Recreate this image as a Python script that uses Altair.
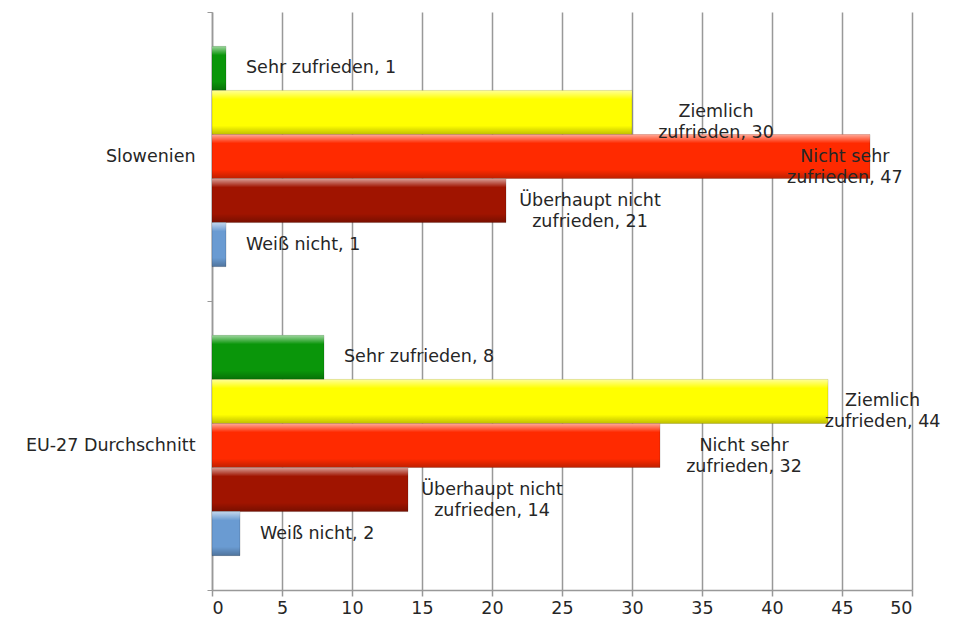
import altair as alt
import pandas as pd

countries = ["Slowenien", "EU-27 Durchschnitt"]
categories = ["Sehr zufrieden", "Ziemlich zufrieden", "Nicht sehr zufrieden",
              "Überhaupt nicht zufrieden", "Weiß nicht"]
label_text = ["Sehr zufrieden", "Ziemlich\nzufrieden", "Nicht sehr\nzufrieden",
              "Überhaupt nicht\nzufrieden", "Weiß nicht"]
slovenia = [1, 30, 47, 21, 1]
eu27 = [8, 44, 32, 14, 2]
colors = ["#0a960a", "#ffff00", "#ff2a00", "#a01400", "#6a9bd2"]
x_ticks = [0, 5, 10, 15, 20, 25, 30, 35, 40, 45, 50]

rows = []
for country, vals in zip(countries, [slovenia, eu27]):
    for cat, txt, v in zip(categories, label_text, vals):
        two = "\n" in txt
        if two:
            lx = v + 6
            if lx > 50:
                lx = v - 1.8
            elif lx > 47.9:
                lx = 47.9
        else:
            lx = v
        rows.append(dict(country=country, cat=cat, value=v,
                         label=f"{txt}, {v}", two=two, lx=lx))
df = pd.DataFrame(rows)

FONT = "DejaVu Sans"
FS = 17.5
TXT = "#262626"
GRID = "#999999"

y_enc = alt.Y("country:N", sort=countries,
              scale=alt.Scale(paddingInner=0, paddingOuter=0),
              axis=alt.Axis(title=None, tickBand="extent", tickSize=5,
                            tickColor=GRID, domainColor=GRID, domainWidth=1.5,
                            labelFont=FONT, labelFontSize=FS, labelColor=TXT,
                            labelPadding=12, grid=False))
yo_enc = alt.YOffset("cat:N", sort=categories,
                     scale=alt.Scale(paddingInner=0, paddingOuter=0.78))
x_axis = alt.Axis(title=None, values=x_ticks, grid=True, gridColor=GRID,
                  gridWidth=1.5, domainColor=GRID, domainWidth=1.5,
                  tickColor=GRID, tickSize=6, tickWidth=1.5,
                  labelFont=FONT, labelFontSize=FS, labelColor=TXT,
                  labelPadding=3)
x_scale = alt.Scale(domain=[0, 50], nice=False)

base = alt.Chart(df)

bars = base.mark_bar(stroke="#00000033", strokeWidth=0.8).encode(
    y=y_enc, yOffset=yo_enc,
    x=alt.X("value:Q", scale=x_scale, axis=x_axis),
    color=alt.Color("cat:N", scale=alt.Scale(domain=categories, range=colors),
                    legend=None),
)

shine = base.mark_bar(
    fill=alt.Gradient(
        gradient="linear", x1=0, x2=0, y1=0, y2=1,
        stops=[
            alt.GradientStop(offset=0, color="rgba(255,255,255,0.6)"),
            alt.GradientStop(offset=0.2, color="rgba(255,255,255,0.0)"),
            alt.GradientStop(offset=0.8, color="rgba(0,0,0,0.0)"),
            alt.GradientStop(offset=1, color="rgba(0,0,0,0.25)"),
        ],
    )
).encode(y=y_enc, yOffset=yo_enc, x=alt.X("value:Q", scale=x_scale, axis=x_axis))

single = base.transform_filter("!datum.two").mark_text(
    align="left", baseline="middle", dx=20, font=FONT, fontSize=FS, color=TXT
).encode(y=y_enc, yOffset=yo_enc, x=alt.X("lx:Q", scale=x_scale, axis=x_axis),
         text="label:N")

double = base.transform_filter("datum.two").mark_text(
    align="center", baseline="middle", lineBreak="\n", lineHeight=21,
    font=FONT, fontSize=FS, color=TXT
).encode(y=y_enc, yOffset=yo_enc, x=alt.X("lx:Q", scale=x_scale, axis=x_axis),
         text="label:N")

chart = alt.layer(bars, shine, single, double).properties(
    width=700, height=578,
    background="white",
    autosize=alt.AutoSizeParams(type="none"),
    padding={"left": 204, "top": 4, "right": 33, "bottom": 26},
).configure_view(stroke=None)

chart.save("out.html", embed_options={"renderer": "svg", "actions": False})
